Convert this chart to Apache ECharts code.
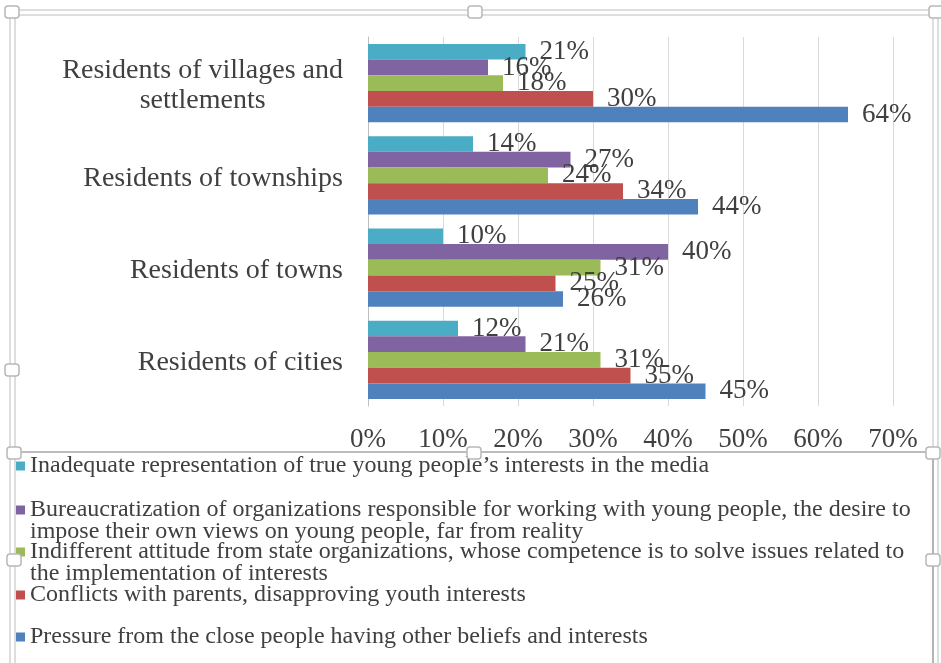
<!DOCTYPE html>
<html>
<head>
<meta charset="utf-8">
<script src="https://cdn.jsdelivr.net/npm/echarts@6/dist/echarts.min.js"></script>
<style>html,body{margin:0;padding:0;background:#fff}#c{width:941px;height:663px}</style>
</head>
<body>
<div id="c"></div>
<script>
var categories = ['Residents of cities', 'Residents of towns', 'Residents of townships', 'Residents of villages and\nsettlements'];
var seriesNames = [
  'Inadequate representation of true young people\u2019s interests in the media',
  'Bureaucratization of organizations responsible for working with young people, the desire to impose their own views on young people, far from reality',
  'Indifferent attitude from state organizations, whose competence is to solve issues related to the implementation of interests',
  'Conflicts with parents, disapproving youth interests',
  'Pressure from the close people having other beliefs and interests'
];
var legendLabels = [
  'Inadequate representation of true young people\u2019s interests in the media',
  'Bureaucratization of organizations responsible for working with young people, the desire to\nimpose their own views on young people, far from reality',
  'Indifferent attitude from state organizations, whose competence is to solve issues related to\nthe implementation of interests',
  'Conflicts with parents, disapproving youth interests',
  'Pressure from the close people having other beliefs and interests'
];
// values per category order: cities, towns, townships, villages
var inadequate = [12, 10, 14, 21];
var bureaucratization = [21, 40, 27, 16];
var indifferent = [31, 31, 24, 18];
var conflicts = [35, 25, 34, 30];
var pressure = [45, 26, 44, 64];
var xTicks = {min: 0, max: 70, interval: 10};

var colors = ['#4BACC6', '#8064A2', '#9BBB59', '#C0504D', '#4F81BD'];
var values = [inadequate, bureaucratization, indifferent, conflicts, pressure];
var serif = '"Liberation Serif", "Times New Roman", serif';

var series = values.map(function (v, i) {
  return {
    name: seriesNames[i], type: 'bar', data: v,
    barGap: '0%', barCategoryGap: '15%',
    itemStyle: {color: colors[i]},
    label: {show: true, position: 'right', distance: 14, formatter: '{c}%',
      fontFamily: serif, fontSize: 27, color: '#404040'},
    emphasis: {disabled: true}
  };
});

// square icon placed at the first text line of a two-line legend entry
var iconTwoLine = 'path://M0,0L0.01,0L0.01,0.01Z M0,6.5L9,6.5L9,15.5L0,15.5Z M0,43.99L0.01,44L0,44Z';
var legendTops = [454, 498, 540, 583, 625];
var legends = seriesNames.map(function (n, i) {
  var twoLine = legendLabels[i].indexOf('\n') >= 0;
  return {
    data: [n], left: 16, top: legendTops[i], orient: 'vertical', padding: 0,
    icon: twoLine ? iconTwoLine : 'rect', itemWidth: 9, itemHeight: twoLine ? 44 : 9,
    symbolKeepAspect: false,
    selectedMode: false,
    formatter: function () { return legendLabels[i]; },
    textStyle: {fontFamily: serif, fontSize: 24, color: '#404040', lineHeight: 22}
  };
});

function handle(x, y) {
  return {type: 'rect', shape: {x: x - 7, y: y - 6, width: 14, height: 12, r: 3},
    style: {fill: '#fff', stroke: '#b8b8b8', lineWidth: 1.5}, z: 100};
}

var chart = echarts.init(document.getElementById('c'));
chart.setOption({
  animation: false,
  backgroundColor: '#fff',
  grid: {left: 368, right: 48, top: 37, bottom: 257, containLabel: false},
  xAxis: {
    type: 'value', min: xTicks.min, max: xTicks.max, interval: xTicks.interval,
    axisLine: {show: false}, axisTick: {show: false},
    splitLine: {lineStyle: {color: '#d9d9d9', width: 1}},
    axisLabel: {formatter: '{value}%', fontFamily: serif, fontSize: 27, color: '#404040', margin: 20}
  },
  yAxis: {
    type: 'category', data: categories,
    axisLine: {lineStyle: {color: '#bfbfbf'}}, axisTick: {show: false},
    axisLabel: {
      fontFamily: serif, fontSize: 28, color: '#404040', margin: 25, lineHeight: 30,
      padding: [6, 0, 0, 0],
      formatter: function (v) {
        var parts = v.split('\n');
        if (parts.length === 1) return v;
        return '{l|' + parts[0] + '}\n{m|' + parts[1] + '}';
      },
      rich: {
        l: {fontFamily: serif, fontSize: 28, color: '#404040', lineHeight: 30},
        m: {fontFamily: serif, fontSize: 28, color: '#404040', lineHeight: 30, align: 'center'}
      }
    }
  },
  legend: legends,
  series: series,
  graphic: [
    {type: 'rect', shape: {x: 10, y: 10, width: 928, height: 700}, style: {fill: 'none', stroke: '#d4d4d4', lineWidth: 1.5}, z: 99},
    {type: 'rect', shape: {x: 15, y: 15, width: 918, height: 700}, style: {fill: 'none', stroke: '#d4d4d4', lineWidth: 1.5}, z: 99},
    {type: 'line', shape: {x1: 15, y1: 452, x2: 933, y2: 452}, style: {stroke: '#a6a6a6', lineWidth: 1.5}, z: 99},
    {type: 'line', shape: {x1: 933, y1: 452, x2: 933, y2: 663}, style: {stroke: '#a6a6a6', lineWidth: 1.5}, z: 99},
    handle(12, 12), handle(475, 12), handle(936, 12),
    handle(12, 370), handle(14, 453), handle(474, 453), handle(933, 453),
    handle(14, 560), handle(933, 560)
  ]
});
</script>
</body>
</html>
